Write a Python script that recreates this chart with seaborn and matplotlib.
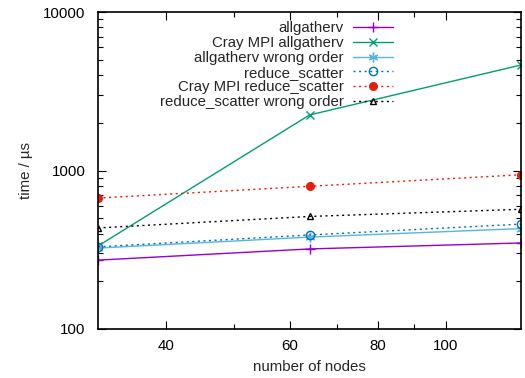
import numpy as np
import pandas as pd
import matplotlib
matplotlib.use("Agg")
import matplotlib.pyplot as plt
import matplotlib.ticker as mticker
import seaborn as sns

nodes = [32, 64, 128]
allgatherv = [272, 320, 349]
cray_allgatherv = [334, 2240, 4630]
allgatherv_wrong = [324, 380, 430]
reduce_scatter = [330, 392, 459]
cray_reduce_scatter = [670, 795, 940]
reduce_scatter_wrong = [434, 513, 569]

labels = ["allgatherv", "Cray MPI allgatherv", "allgatherv wrong order",
          "reduce_scatter", "Cray MPI reduce_scatter", "reduce_scatter wrong order"]
series = [allgatherv, cray_allgatherv, allgatherv_wrong,
          reduce_scatter, cray_reduce_scatter, reduce_scatter_wrong]

styles = [
    dict(color="#9400d3", marker="+", linestyle="-", mfc="#9400d3", ms=7),
    dict(color="#009e73", marker="x", linestyle="-", mfc="#009e73", ms=6),
    dict(color="#56b4e9", marker=(6, 2, 0), linestyle="-", mfc="#56b4e9", ms=7),
    dict(color="#0072b2", marker="o", linestyle=(0, (1.5, 2.5)), mfc="none", ms=6),
    dict(color="#e51e10", marker="o", linestyle=(0, (1.5, 2.5)), mfc="#e51e10", ms=5.5),
    dict(color="black", marker="^", linestyle=(0, (1.5, 2.5)), mfc="none", ms=5),
]

FS = 10.8

sns.set_theme(style="ticks")
plt.rcParams["font.family"] = ["Liberation Sans", "DejaVu Sans"]
plt.rcParams["font.size"] = FS

fig = plt.figure(figsize=(5.25, 3.78), dpi=100)
ax = fig.add_axes([98 / 525, 1 - 329 / 378, 423 / 525, 317 / 378])

for lab, vals, st in zip(labels, series, styles):
    df = pd.DataFrame({"nodes": nodes, "time": vals})
    sns.lineplot(data=df, x="nodes", y="time", ax=ax, label=lab,
                 color=st["color"], marker=st["marker"], linestyle=st["linestyle"],
                 markerfacecolor=st["mfc"], markeredgecolor=st["color"],
                 markersize=st["ms"], markeredgewidth=1.0, linewidth=1.0)

ax.set_xscale("log")
ax.set_yscale("log")
ax.set_xlim(32, 128)
ax.set_ylim(100, 10000)
ax.xaxis.set_major_locator(mticker.FixedLocator([40, 60, 80, 100]))
ax.xaxis.set_minor_locator(mticker.FixedLocator([50, 70, 90]))
ax.xaxis.set_major_formatter(mticker.FixedFormatter(["40", "60", "80", "100"]))
ax.xaxis.set_minor_formatter(mticker.NullFormatter())
ax.yaxis.set_major_locator(mticker.FixedLocator([100, 1000, 10000]))
ax.yaxis.set_major_formatter(mticker.FixedFormatter(["100", "1000", "10000"]))
ax.yaxis.set_minor_locator(mticker.LogLocator(base=10, subs=np.arange(2, 10)))
ax.yaxis.set_minor_formatter(mticker.NullFormatter())

ax.tick_params(which="both", direction="in", top=True, right=True, colors="black",
               labelsize=FS)
ax.tick_params(which="major", length=6, width=0.8)
ax.tick_params(which="minor", length=3.5, width=0.8)
ax.tick_params(axis="x", pad=7)
ax.tick_params(axis="y", pad=9)
for s in ax.spines.values():
    s.set_linewidth(1.2)
    s.set_color("black")

ax.set_xlabel("number of nodes", fontsize=FS, labelpad=5)
ax.set_ylabel("time / µs", fontsize=FS, labelpad=7)

leg = ax.legend(loc="upper right", bbox_to_anchor=(0.72, 1.0), frameon=False,
                markerfirst=False, handlelength=2.7, handletextpad=0.6,
                labelspacing=0.05, borderaxespad=0.22, fontsize=FS)

fig.savefig("out.png", dpi=100)
